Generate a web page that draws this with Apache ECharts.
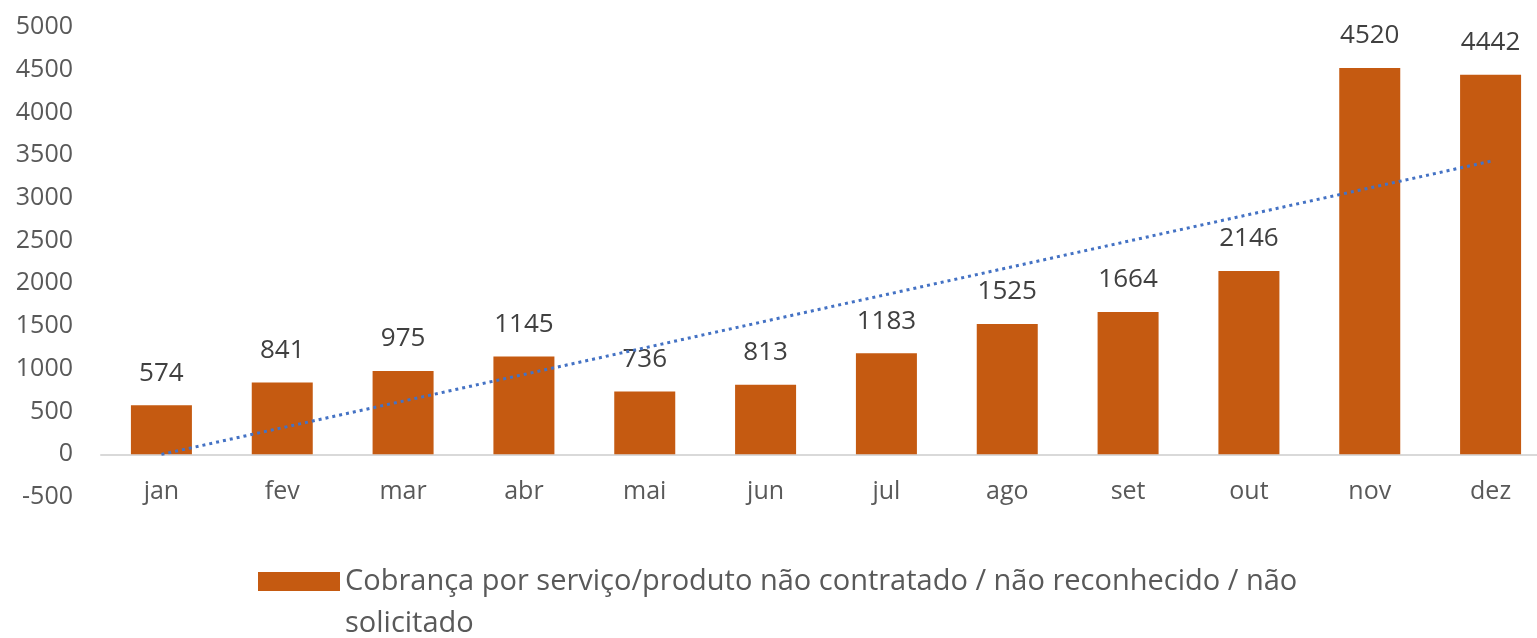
<!DOCTYPE html>
<html>
<head>
<meta charset="utf-8">
<script src="https://cdn.jsdelivr.net/npm/echarts@6/dist/echarts.min.js"></script>
<style>html,body{margin:0;padding:0;background:#fff;overflow:hidden}#c{width:1551px;height:638px}</style>
</head>
<body>
<div id="c"></div>
<script>
const categories = ['jan','fev','mar','abr','mai','jun','jul','ago','set','out','nov','dez'];
const values = [574, 841, 975, 1145, 736, 813, 1183, 1525, 1664, 2146, 4520, 4442];
const seriesName = 'Cobrança por serviço/produto não contratado / não reconhecido / não solicitado';
const legendLines = ['Cobrança por serviço/produto não contratado / não reconhecido / não', 'solicitado'];

// Linear trendline (least squares) from the data, as Excel does
const n = values.length;
const xs = values.map((_, i) => i + 1);
const mx = xs.reduce((a, b) => a + b, 0) / n;
const my = values.reduce((a, b) => a + b, 0) / n;
let sxy = 0, sxx = 0;
for (let i = 0; i < n; i++) { sxy += (xs[i] - mx) * (values[i] - my); sxx += (xs[i] - mx) ** 2; }
const slope = sxy / sxx, intercept = my - slope * mx;
const trend = xs.map(x => intercept + slope * x);

const FONT = '"Open Sans", "Noto Sans", sans-serif';
const chart = echarts.init(document.getElementById('c'), null, {renderer: 'canvas'});
chart.setOption({
  animation: false,
  grid: {left: 101, right: 0, top: 27, bottom: 141, containLabel: false},
  xAxis: {
    type: 'category', data: categories,
    axisLine: {show: true, onZero: true, lineStyle: {color: '#d9d9d9', width: 2}},
    axisTick: {show: false},
    axisLabel: {color: '#595959', fontFamily: FONT, fontSize: 25, margin: -18}
  },
  yAxis: {
    type: 'value', min: -500, max: 5000, interval: 500,
    axisLine: {show: false}, axisTick: {show: false}, splitLine: {show: false},
    axisLabel: {color: '#595959', fontFamily: FONT, fontSize: 25, margin: 28, formatter: v => String(v)}
  },
  legend: {
    data: [{name: seriesName, icon: 'rect'}],
    left: 253, top: 562,
    itemWidth: 82, itemHeight: 19, itemGap: 10,
    formatter: () => legendLines[0],
    textStyle: {color: '#595959', fontFamily: FONT, fontSize: 29}
  },
  graphic: [{
    type: 'text', left: 345, top: 609, silent: true,
    style: {text: legendLines[1], fill: '#595959', font: '29px ' + FONT}
  }],
  series: [
    {
      name: seriesName, type: 'bar', data: values, barWidth: 61,
      itemStyle: {color: '#c55a11'},
      label: {show: true, position: 'top', distance: 19, color: '#404040', fontFamily: FONT, fontSize: 26}
    },
    {
      name: 'trend', type: 'line', data: trend, symbol: 'none', silent: true, z: 5,
      lineStyle: {color: '#4472c4', width: 3, type: [3, 4]}
    }
  ]
});
</script>
</body>
</html>
